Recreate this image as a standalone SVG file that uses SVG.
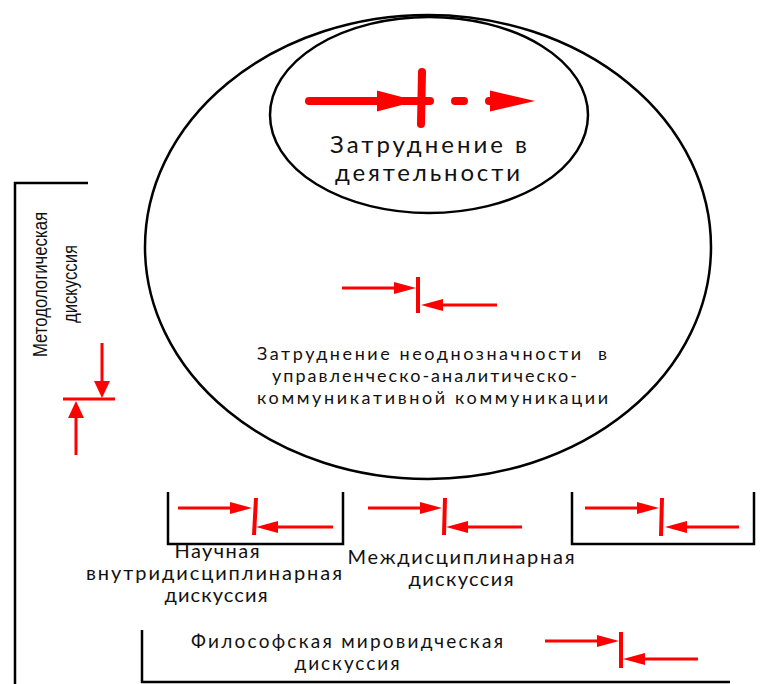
<svg xmlns="http://www.w3.org/2000/svg" width="765" height="684" viewBox="0 0 765 684">
<style>
.ln{fill:none;stroke:#000;stroke-width:2.5}
.t{font-family:Lato,"Open Sans",sans-serif;fill:#111}
.tn{font-family:"Liberation Sans",Arial,sans-serif;fill:#111;font-size:20px}
.ar{stroke:#f00;stroke-width:3;fill:none}
.bar{stroke:#f00;stroke-width:4;fill:none}
.big{stroke:#f00;stroke-width:8;stroke-linecap:round;fill:none}
.hd{fill:#f00}
</style>
<defs>
<marker id="ah" markerUnits="userSpaceOnUse" viewBox="0 0 22 12" markerWidth="22" markerHeight="12" refX="0" refY="6" orient="auto">
<path d="M0,0 L22,6 L0,12 z" fill="#f00"/>
</marker>
<marker id="ahv" markerUnits="userSpaceOnUse" viewBox="0 0 17 16" markerWidth="17" markerHeight="16" refX="0" refY="8" orient="auto">
<path d="M0,0 L17,8 L0,16 z" fill="#f00"/>
</marker>
</defs>

<g id="outer-ellipse">
<ellipse class="ln" cx="428" cy="247" rx="283" ry="232"/>
<text class="t" font-size="18" xml:space="preserve" x="257" y="360" textLength="350">Затруднение неоднозначности  в</text>
<text class="t" font-size="18" x="272" y="382" textLength="305">управленческо-аналитическо-</text>
<text class="t" font-size="18" x="257" y="404" textLength="351">коммуникативной коммуникации</text>
</g>

<g id="inner-ellipse">
<ellipse class="ln" cx="429" cy="115" rx="159" ry="98"/>
<text class="t" font-size="24" x="330" y="153" textLength="197">Затруднение в</text>
<text class="t" font-size="24" x="335" y="181" textLength="185">деятельности</text>
</g>

<g id="methodological">
<path class="ln" d="M88,183 H15 V684"/>
<text class="tn" transform="translate(47,357) rotate(-90)" textLength="145" lengthAdjust="spacingAndGlyphs">Методологическая</text>
<text class="tn" transform="translate(77,323) rotate(-90)" textLength="78" lengthAdjust="spacingAndGlyphs">дискуссия</text>
</g>

<g id="scientific">
<path class="ln" d="M168,492 V544 H343 V492"/>
<text class="t" font-size="20" text-anchor="middle" x="217" y="558" textLength="85">Научная</text>
<text class="t" font-size="20" text-anchor="middle" x="214" y="580" textLength="256">внутридисциплинарная</text>
<text class="t" font-size="20" text-anchor="middle" x="216" y="602" textLength="103">дискуссия</text>
</g>

<g id="interdisciplinary">
<text class="t" font-size="20" text-anchor="middle" x="461" y="564" textLength="227">Междисциплинарная</text>
<text class="t" font-size="20" text-anchor="middle" x="461" y="586" textLength="105">дискуссия</text>
</g>

<g id="third-box">
<path class="ln" d="M572,492 V544 H754 V492"/>
</g>

<g id="philosophical">
<path class="ln" d="M142,630 V682 H730"/>
<text class="t" font-size="19" text-anchor="middle" x="347" y="648" textLength="312">Философская мировидческая</text>
<text class="t" font-size="19" text-anchor="middle" x="347" y="670" textLength="105">дискуссия</text>
</g>

<g id="connectors">
<line class="big" x1="309" y1="101" x2="430" y2="101"/>
<polygon class="hd" points="377,90.5 417,101 377,111.5"/>
<line class="big" x1="422" y1="72" x2="421" y2="124"/>
<line class="big" x1="455" y1="101" x2="464" y2="101"/>
<line class="big" x1="489" y1="101" x2="494" y2="101"/>
<polygon class="hd" points="490,90.5 535,101 490,111.5"/>

<line class="ar" x1="342" y1="288" x2="394" y2="288" marker-end="url(#ah)"/>
<line class="bar" x1="418" y1="277" x2="418" y2="313"/>
<line class="ar" x1="497" y1="305" x2="443" y2="305" marker-end="url(#ah)"/>

<line class="ar" x1="102" y1="343" x2="102" y2="381" marker-end="url(#ahv)"/>
<line class="ar" x1="63" y1="399" x2="115" y2="399"/>
<line class="ar" x1="76" y1="455" x2="76" y2="418" marker-end="url(#ahv)"/>

<line class="ar" x1="178" y1="508" x2="230" y2="508" marker-end="url(#ah)"/>
<line class="bar" x1="256" y1="498" x2="254" y2="535"/>
<line class="ar" x1="333" y1="527" x2="278" y2="527" marker-end="url(#ah)"/>

<line class="ar" x1="368" y1="508" x2="420" y2="508" marker-end="url(#ah)"/>
<line class="bar" x1="445" y1="498" x2="444" y2="535"/>
<line class="ar" x1="522" y1="527" x2="468" y2="527" marker-end="url(#ah)"/>

<line class="ar" x1="585" y1="508" x2="637" y2="508" marker-end="url(#ah)"/>
<line class="bar" x1="662" y1="498" x2="661" y2="536"/>
<line class="ar" x1="739" y1="527" x2="687" y2="527" marker-end="url(#ah)"/>

<line class="ar" x1="545" y1="641" x2="597" y2="641" marker-end="url(#ah)"/>
<line class="bar" x1="621" y1="632" x2="621" y2="668"/>
<line class="ar" x1="698" y1="659" x2="645" y2="659" marker-end="url(#ah)"/>
</g>
</svg>
